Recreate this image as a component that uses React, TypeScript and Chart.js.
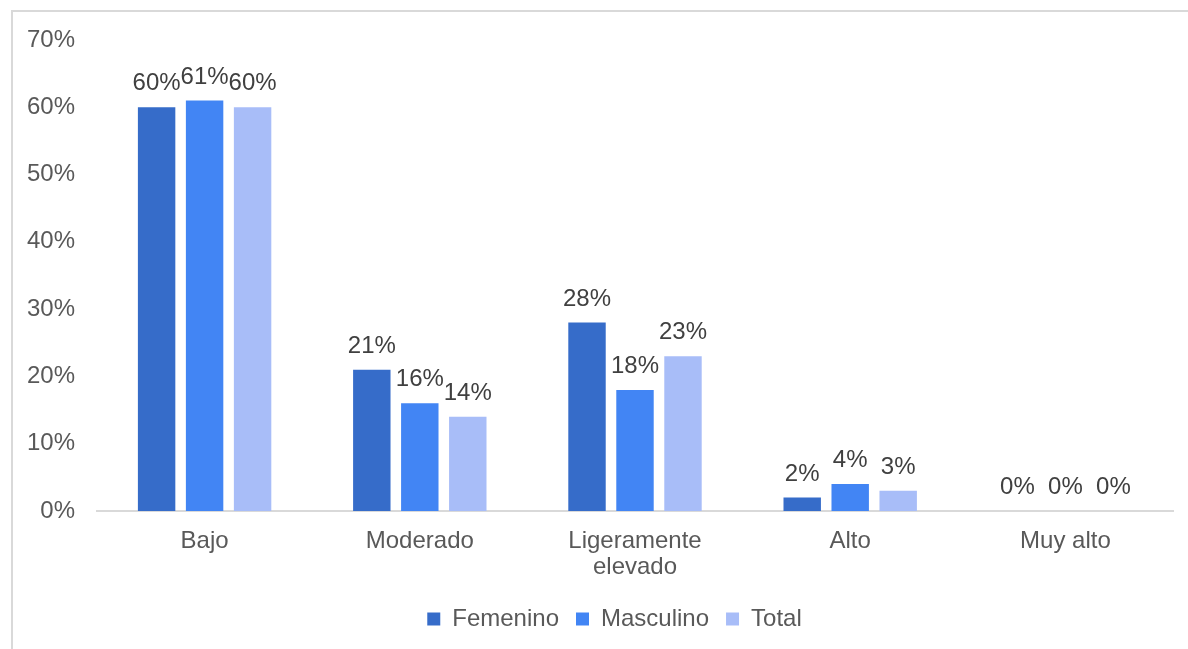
import React, { useEffect, useRef } from "react";
import { Chart, registerables } from "chart.js";

Chart.register(...registerables);

const categories: (string | string[])[] = ["Bajo", "Moderado", ["Ligeramente", "elevado"], "Alto", "Muy alto"];
const femenino = [60, 21, 28, 2, 0];
const masculino = [61, 16, 18, 4, 0];
const total = [60, 14, 23, 3, 0];
const seriesNames = ["Femenino", "Masculino", "Total"];
const seriesColors = ["#366CC9", "#4285F4", "#A8BDF8"];

const FONT = "'Liberation Sans', Arial, sans-serif";
const FS = 24;

const valueLabels = {
  id: "valueLabels",
  afterDatasetsDraw(chart: any) {
    const ctx = chart.ctx;
    ctx.save();
    ctx.font = `${FS}px ${FONT}`;
    ctx.fillStyle = "#404040";
    ctx.textAlign = "center";
    ctx.textBaseline = "alphabetic";
    chart.data.datasets.forEach((ds: any, i: number) => {
      const meta = chart.getDatasetMeta(i);
      meta.data.forEach((bar: any, j: number) => {
        ctx.fillText(`${ds.data[j]}%`, bar.x, bar.y - 17);
      });
    });
    ctx.restore();
  },
};

// shift the legend block right so it sits where the reference legend sits
const legendShift = {
  id: "legendShift",
  afterLayout(chart: any) {
    const lg = chart.legend;
    if (lg) {
      lg.left += 28;
      lg.right += 28;
    }
  },
};

export default function App() {
  const ref = useRef<HTMLCanvasElement | null>(null);
  useEffect(() => {
    if (!ref.current) return;
    const chart = new Chart(ref.current, {
      type: "bar",
      data: {
        labels: categories,
        datasets: [femenino, masculino, total].map((d, i) => ({
          label: seriesNames[i],
          data: d,
          backgroundColor: seriesColors[i],
          borderWidth: 0,
          categoryPercentage: 0.669,
          barPercentage: 0.78,
        })),
      },
      options: {
        animation: false,
        responsive: false,
        maintainAspectRatio: false,
        layout: { padding: { left: 0, right: 15, top: 40, bottom: 8 } },
        plugins: {
          tooltip: { enabled: false },
          legend: {
            position: "bottom",
            labels: {
              boxWidth: 13,
              boxHeight: 13,
              padding: 17,
              color: "#595959",
              font: { family: FONT, size: FS },
            },
          },
        },
        scales: {
          x: {
            grid: { display: false, drawTicks: false },
            border: { display: true, color: "#d9d9d9", width: 2 },
            ticks: {
              color: "#595959",
              padding: 17,
              font: { family: FONT, size: FS, lineHeight: 1.1 },
              maxRotation: 0,
              autoSkip: false,
            },
            afterFit(scale: any) {
              scale.height = 79;
            },
          },
          y: {
            min: 0,
            max: 70,
            grid: { display: false, drawTicks: false },
            border: { display: false },
            ticks: {
              stepSize: 10,
              color: "#595959",
              padding: 22,
              font: { family: FONT, size: FS },
              callback: (v: any) => `${v}%`,
            },
            afterFit(scale: any) {
              scale.width = 97;
            },
          },
        },
      },
      plugins: [valueLabels, legendShift],
    });
    return () => chart.destroy();
  }, []);

  return (
    <div style={{ position: "fixed", left: 0, top: 0, width: 1188, height: 649, background: "#fff", overflow: "hidden" }}>
      <div
        style={{
          position: "absolute",
          left: 11,
          top: 10,
          width: 1300,
          height: 800,
          border: "2px solid #d9d9d9",
          boxSizing: "border-box",
        }}
      />
      <canvas ref={ref} width={1188} height={649} style={{ position: "absolute", left: 0, top: 0, width: 1188, height: 649 }} />
    </div>
  );
}
